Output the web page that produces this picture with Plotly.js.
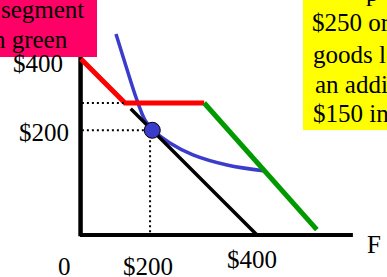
<!DOCTYPE html>
<html>
<head>
<meta charset="utf-8">
<script src="https://cdn.plot.ly/plotly-3.0.1.min.js"></script>
<style>html,body{margin:0;padding:0;background:#fff;}#chart{width:387px;height:277px;}</style>
</head>
<body>
<div id="chart"></div>
<script>
// ---- data (schematic units: dollars of food on x, other goods on y) ----
const budgetX = [113, 400];            // original budget line (black)
const budgetY = [287, 0];
const redX = [0, 100, 280];            // budget with food stamps, red part
const redY = [400, 300, 300];
const greenX = [280, 536];             // cash segment (green)
const greenY = [300, 12];
const icX = [79.5, 100, 127, 145.5, 163.6, 202, 254.5, 332, 418]; // indifference curve
const icY = [457, 391, 307, 261, 238.6, 209, 182, 159, 145.5];
const choiceX = [162];                 // chosen bundle
const choiceY = [238];
const guideHiY = 300;                  // dotted guide levels
const guideLoY = 238;
const guideX = 157;
const xTickText = ['0', '$200', '$400'];
const xTickPos = [-38.6, 152, 388.6];
const xTickPosY = [-70.5, -70.5, -56.8];
const yTickText = ['$400', '$200'];
const yTickPos = [389, 234];
const yTickPosX = [-97.7, -84];
const xAxisLabel = 'F';
const pinkLines = ['segment', 'in green'];
const yellowLines = ['p', '$250 or', 'goods l', 'an additional', '$150 in cash'];

// ---- layout helpers (pixel -> paper) ----
const W = 387, H = 277;
const PX = p => p / W;
const PY = p => 1 - p / H;
const serif = {family: 'Liberation Serif, Times New Roman, serif', size: 25, color: '#000'};

const traces = [
  {x: [-1, -1], y: [-3, 420], mode: 'lines', line: {color: '#000', width: 4.5}, hoverinfo: 'skip'},
  {x: [-2.5, 618], y: [0, 0], mode: 'lines', line: {color: '#000', width: 4}, hoverinfo: 'skip'},
  {x: icX, y: icY, mode: 'lines', line: {color: '#3b3bcc', width: 3.5, shape: 'spline'}},
  {x: budgetX, y: budgetY, mode: 'lines', line: {color: '#000', width: 3.5}},
  {x: redX, y: redY, mode: 'lines', line: {color: '#ff0000', width: 5}},
  {x: greenX, y: greenY, mode: 'lines', line: {color: '#009a00', width: 5}},
  {x: [2, redX[1]], y: [guideHiY, guideHiY], mode: 'lines', line: {color: '#000', width: 2, dash: '2px,3px'}},
  {x: [2, guideX], y: [guideLoY, guideLoY], mode: 'lines', line: {color: '#000', width: 2, dash: '2px,3px'}},
  {x: [guideX, guideX], y: [guideLoY, 2], mode: 'lines', line: {color: '#000', width: 2, dash: '2px,3px'}},
  {x: choiceX, y: choiceY, mode: 'markers', marker: {color: '#3b3bcc', size: 16, line: {color: '#000', width: 1}}}
];

const annotations = [];
xTickText.forEach((t, i) => annotations.push({x: xTickPos[i], y: xTickPosY[i], xref: 'x', yref: 'y', text: t, showarrow: false, font: serif, xanchor: 'center', yanchor: 'middle'}));
yTickText.forEach((t, i) => annotations.push({x: yTickPosX[i], y: yTickPos[i], xref: 'x', yref: 'y', text: t, showarrow: false, font: serif, xanchor: 'center', yanchor: 'middle'}));
annotations.push({x: 666, y: -20.5, xref: 'x', yref: 'y', text: xAxisLabel, showarrow: false, font: serif, xanchor: 'center', yanchor: 'middle'});
// pink note
annotations.push({x: PX(-1), y: PY(10), xref: 'paper', yref: 'paper', text: pinkLines[0], showarrow: false, font: serif, xanchor: 'left', yanchor: 'middle'});
annotations.push({x: PX(70), y: PY(39), xref: 'paper', yref: 'paper', text: pinkLines[1], showarrow: false, font: serif, xanchor: 'right', yanchor: 'middle'});
// yellow note
const yl = [[364, -8], [310, 22.5], [311, 54], [313, 84], [311, 113.5]];
yellowLines.forEach((t, i) => annotations.push({x: PX(yl[i][0]), y: PY(yl[i][1]), xref: 'paper', yref: 'paper', text: t, showarrow: false, font: serif, xanchor: 'left', yanchor: 'middle'}));

const layout = {
  width: W, height: H,
  margin: {l: 0, r: 0, t: 0, b: 0},
  paper_bgcolor: '#fff', plot_bgcolor: '#fff',
  showlegend: false,
  xaxis: {range: [-184.1, 695.5], visible: false, fixedrange: true},
  yaxis: {range: [-95.5, 534.1], visible: false, fixedrange: true},
  shapes: [
    {type: 'rect', xref: 'paper', yref: 'paper', x0: PX(-5), x1: PX(97), y0: PY(57), y1: PY(-5), fillcolor: '#ff0066', line: {width: 0}, layer: 'above'},
    {type: 'rect', xref: 'paper', yref: 'paper', x0: PX(303), x1: PX(395), y0: PY(130), y1: PY(-5), fillcolor: '#ffff00', line: {width: 0}, layer: 'above'}
  ],
  annotations: annotations
};

Plotly.newPlot('chart', traces, layout, {staticPlot: true, displayModeBar: false});
</script>
</body>
</html>
